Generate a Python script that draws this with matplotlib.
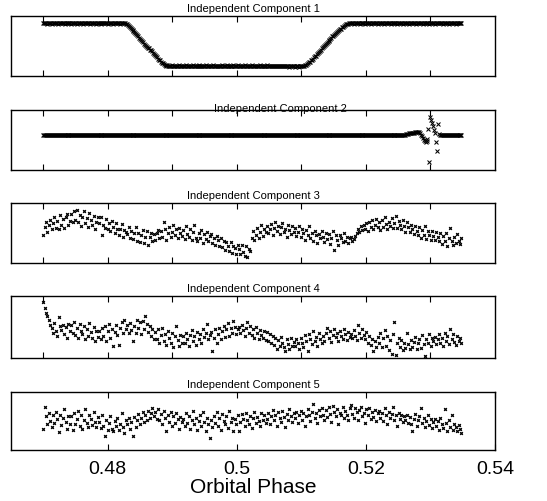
import numpy as np
import matplotlib
matplotlib.use("Agg")
import matplotlib.pyplot as plt

plt.rcParams['font.family'] = ['Liberation Sans', 'DejaVu Sans']

PHASE_START = 0.47
PHASE_END = 0.5348

titles = ["Independent Component 1", "Independent Component 2", "Independent Component 3",
          "Independent Component 4", "Independent Component 5"]

comp1 = [
    88, 89, 88, 88, 87, 88, 88, 89, 88, 87,
    88, 88, 88, 89, 88, 87, 88, 88, 88, 88,
    89, 88, 87, 88, 88, 88, 89, 88, 88, 87,
    88, 88, 89, 88, 88, 87, 88, 88, 88, 89,
    88, 87, 88, 88, 89, 88, 88, 88, 87, 88,
    88, 89, 88, 88, 87, 88, 89, 88, 88, 88,
    87, 88, 88, 89, 88, 88, 88, 87, 88, 89,
    88, 88, 87, 88, 88, 89, 88, 88, 88, 87,
    88, 88, 89,
    88, 88, 87, 86, 85, 84, 82, 80, 78, 77,
    75, 74, 72, 70, 68, 66, 64, 62, 60, 58,
    56, 54, 52, 50, 49, 47, 46, 44, 43, 41,
    39, 37, 35, 33, 31, 29, 27, 26, 24, 22,
    21, 20, 19, 18,
    17, 18, 17, 17, 16, 17, 18, 17, 17, 17,
    16, 17, 17, 18, 17, 17, 16, 17, 17, 17,
    18, 17, 17, 16, 17, 17, 17, 18, 17, 16,
    17, 17, 17, 17, 18, 17, 16, 17, 17, 17,
    17, 18, 17, 17, 16, 17, 17, 17, 18, 17,
    17, 16, 17, 17, 17, 16, 17, 18, 16, 17,
    17, 17, 18, 17, 16, 17, 17, 17, 17, 18,
    16, 17, 17, 17, 18, 17, 17, 16, 17, 17,
    17, 18, 17, 16, 17, 17, 17, 17, 18, 17,
    16, 17, 17, 17, 17, 16, 18, 17, 17, 17,
    17, 16, 17, 17, 18, 17, 16, 17, 17, 16,
    17, 17, 16, 17, 17, 16, 17, 16, 17, 16,
    16, 17, 16, 16, 17, 16, 15, 16, 16, 17,
    16, 16, 15, 16, 17, 16, 16, 15, 16, 16,
    17, 16, 16,
    18, 19, 20, 21, 23, 24, 26, 27, 29, 31,
    33, 34, 36, 38, 40, 42, 44, 46, 48, 50,
    52, 53, 55, 57, 59, 60, 62, 64, 66, 67,
    69, 70, 72, 73, 75, 76, 78, 79, 81, 82,
    84, 85, 86, 87, 87, 88, 88,
    88, 89, 88, 87, 88, 88, 89, 88, 88, 87,
    88, 89, 88, 88, 88, 87, 88, 89, 88, 88,
    88, 87, 89, 88, 88, 88, 88, 89, 87, 88,
    88, 88, 89, 88, 87, 88, 88, 88, 89, 88,
    88, 87, 88, 88, 89, 88, 88, 88, 87, 88,
    89, 88, 88, 88, 87, 88, 88, 89, 88, 88,
    87, 88, 88, 88, 89, 88, 88, 87, 88, 88,
    88, 89, 88, 88, 87, 88, 88, 88, 89, 88,
    88, 87, 88, 89, 88, 88, 88, 87, 88, 88,
    89, 88, 88, 88, 88, 87, 88, 89, 88, 88,
    88, 87, 88, 88, 89, 88, 88, 88, 87, 88,
    88, 89, 88, 88, 88,
]

comp2 = [
    58, 58, 59, 58, 58, 58, 59, 58, 58, 58, 58, 59, 58, 58, 58, 58, 59, 58, 58, 58,
    58, 59, 58, 58, 58, 58, 58, 59, 58, 58, 58, 58, 59, 58, 58, 58, 58, 58, 59, 58,
    58, 58, 59, 58, 58, 58, 58, 59, 58, 58, 58, 58, 58, 59, 58, 58, 58, 59, 58, 58,
    58, 59, 58, 58, 58, 58, 59, 58, 58, 58, 58, 58, 59, 58, 58, 58, 58, 59, 58, 58,
    58, 58, 59, 58, 58, 58, 58, 58, 59, 58, 58, 58, 59, 58, 58, 58, 58, 58, 59, 58,
    58, 59, 58, 58, 58, 58, 58, 59, 58, 58, 58, 58, 59, 58, 58, 58, 58, 58, 59, 58,
    58, 58, 59, 58, 58, 58, 59, 58, 58, 58, 58, 58, 59, 58, 58, 58, 58, 59, 58, 58,
    58, 59, 58, 58, 58, 58, 58, 59, 58, 58, 58, 59, 58, 58, 58, 58, 58, 59, 58, 58,
    58, 58, 59, 58, 58, 58, 58, 58, 59, 58, 58, 58, 58, 59, 58, 58, 58, 58, 59, 58,
    58, 59, 58, 58, 58, 58, 59, 58, 58, 58, 58, 58, 59, 58, 58, 58, 59, 58, 58, 58,
    58, 58, 59, 58, 58, 58, 58, 58, 59, 58, 58, 58, 58, 59, 58, 58, 58, 58, 59, 58,
    58, 59, 58, 58, 58, 58, 58, 59, 58, 58, 58, 58, 59, 58, 58, 58, 58, 58, 59, 58,
    58, 58, 59, 58, 58, 58, 58, 59, 58, 58, 58, 58, 58, 59, 58, 58, 59, 58, 58, 58,
    58, 59, 58, 58, 58, 58, 59, 58, 58, 58, 58, 58, 59, 58, 58, 58, 58, 59, 58, 58,
    58, 58, 59, 58, 58, 58, 58, 58, 59, 58, 58, 58, 59, 58, 58, 58, 58, 58, 59, 58,
    58, 59, 58, 58, 58, 58, 58, 59, 58, 58, 58, 58, 59, 58, 58, 58, 58, 58, 59, 58,
    58, 58, 59, 58, 58, 58, 59, 58, 58, 58, 58, 58, 59, 58, 58, 58, 58, 59, 58, 58,
    58, 59, 58, 58, 58, 58, 58, 59, 58, 58, 58, 59, 58, 58, 58, 58, 58, 59, 58, 58,
    58, 58, 59, 58, 58, 58, 58, 59, 58, 58, 58, 59,
    59, 59, 60, 60, 60, 61, 61, 61, 62, 62, 62, 63, 63, 63, 64, 64, 62, 59, 56, 53,
    50, 48, 47, 49,
    52, 68, 14, 88, 84, 79, 73, 66, 62, 46, 32, 77,
    60, 59, 58, 59, 58, 58, 59, 58, 58, 59, 58, 58, 59, 58, 58, 58, 59, 58, 58, 59,
    58, 58, 58, 59,
]

comp3 = [
    46, 60, 68, 52, 63, 72, 56, 66, 76, 59, 70, 57, 80, 64, 73, 58, 76, 82, 63, 70,
    82, 68, 86, 71, 88, 68, 80, 62, 76, 86, 67, 75, 60, 84, 71, 64, 78, 56, 69, 76,
    66, 76, 47, 64, 58, 73, 56, 66, 53, 70, 60, 50, 66, 57, 46, 57, 65, 44, 55, 52,
    49, 60, 42, 54, 40, 50, 60, 37, 50, 35, 46, 55, 33, 44, 53, 30, 43, 50, 36, 48,
    38, 50, 55, 42, 53, 44, 69, 56, 39, 50, 60, 44, 52, 63, 47, 56, 41, 58, 50, 45,
    55, 40, 61, 48, 43, 57, 38, 51, 63, 42, 36, 50, 42, 55, 34, 48, 40, 51, 36, 45,
    49, 34, 42, 30, 45, 38, 28, 42, 26, 37, 22, 35, 28, 20, 35, 17, 28, 25, 15, 30,
    24, 15, 30, 19, 12, 28, 10, 23, 20, 42, 53, 38, 47, 58, 42, 52, 63, 45, 57, 51,
    62, 50, 56, 65, 46, 58, 68, 53, 62, 48, 60, 66, 51, 57, 43, 63, 55, 48, 61, 52,
    58, 45, 52, 62, 43, 56, 50, 38, 55, 47, 61, 42, 50, 36, 54, 46, 33, 49, 42, 53,
    44, 35, 50, 40, 48, 32, 42, 54, 22, 47, 39, 30, 46, 41, 35, 50, 37, 44, 33, 42,
    43, 37, 40, 45, 50, 57, 52, 62, 55, 63, 57, 66, 53, 69, 60, 72, 57, 64, 74, 60,
    68, 55, 71, 60, 77, 65, 56, 69, 62, 75, 58, 66, 78, 59, 70, 64, 56, 72, 62, 52,
    68, 60, 51, 64, 56, 48, 62, 54, 46, 60, 42, 55, 47, 61, 40, 54, 46, 38, 53, 45,
    38, 52, 44, 36, 50, 31, 45, 37, 50, 29, 42, 58, 36, 30, 44, 34, 48, 37, 32, 41,
]

comp4 = [
    90, 80, 73, 67, 61, 54, 48, 40, 56, 44, 36, 66, 52, 45, 54, 38, 50, 33, 55, 44,
    53, 40, 58, 37, 49, 32, 55, 44, 38, 51, 30, 47, 36, 56, 42, 33, 50, 27, 43, 34,
    44, 30, 48, 36, 52, 28, 43, 55, 33, 47, 20, 42, 53, 37, 21, 49, 58, 40, 62, 46,
    53, 41, 57, 45, 27, 52, 40, 62, 48, 58, 38, 60, 47, 68, 55, 42, 51, 35, 46, 30,
    42, 31, 46, 24, 37, 49, 28, 38, 21, 44, 32, 24, 41, 18, 35, 51, 29, 20, 37, 25,
    35, 24, 41, 30, 20, 37, 45, 27, 35, 21, 42, 31, 38, 25, 47, 34, 40, 55, 30, 37,
    42, 12, 33, 46, 24, 38, 49, 31, 43, 52, 34, 46, 56, 36, 48, 41, 59, 50, 38, 46,
    50, 40, 54, 45, 35, 48, 58, 41, 51, 37, 46, 33, 50, 40, 30, 45, 37, 33, 44, 29,
    42, 28, 38, 24, 35, 21, 33, 14, 29, 19, 34, 25, 17, 12, 30, 23, 15, 32, 20, 26,
    19, 30, 24, 14, 33, 25, 18, 37, 28, 12, 39, 30, 22, 43, 28, 34, 20, 40, 31, 25,
    36, 27, 41, 48, 32, 43, 26, 37, 47, 34, 40, 28, 44, 36, 31, 46, 38, 29, 42, 34,
    39, 32, 45, 36, 29, 53, 40, 33, 46, 37, 30, 42, 24, 36, 21, 31, 12, 27, 17, 34,
    25, 40, 17, 33, 45, 20, 35, 13, 29, 7, 38, 58, 5, 24, 32, 18, 29, 13, 25, 16,
    40, 22, 15, 29, 17, 26, 34, 14, 24, 30, 16, 37, 22, 4, 30, 25, 39, 20, 32, 27,
    34, 22, 30, 39, 25, 32, 19, 40, 27, 35, 23, 46, 30, 38, 26, 21, 36, 28, 33, 25,
]

comp5 = [
    36, 75, 58, 44, 64, 50, 40, 60, 46, 66, 54, 31, 61, 43, 56, 70, 49, 37, 59, 45,
    58, 34, 64, 44, 53, 68, 41, 61, 36, 52, 70, 47, 39, 60, 54, 43, 65, 49, 40, 57,
    49, 38, 60, 42, 25, 51, 35, 46, 58, 37, 32, 50, 41, 55, 34, 45, 63, 40, 30, 52,
    44, 55, 36, 49, 24, 57, 40, 52, 62, 45, 56, 66, 48, 60, 52, 68, 56, 63, 72, 58,
    66, 53, 70, 51, 62, 44, 68, 55, 33, 61, 49, 65, 42, 58, 47, 64, 53, 36, 57, 48,
    54, 42, 64, 47, 58, 37, 52, 68, 45, 56, 35, 50, 60, 41, 66, 48, 33, 55, 44, 21,
    51, 40, 59, 46, 65, 42, 55, 35, 62, 50, 45, 58, 38, 68, 48, 56, 33, 53, 44, 61,
    32, 48, 62, 54, 41, 64, 51, 45, 59, 38, 55, 66, 46, 57, 50, 42, 63, 52, 60, 47,
    53, 64, 45, 59, 69, 51, 61, 42, 65, 55, 48, 67, 57, 40, 62, 52, 71, 58, 49, 63,
    55, 66, 47, 60, 68, 52, 64, 41, 59, 70, 61, 50, 66, 80, 56, 64, 46, 69, 59, 72,
    61, 52, 69, 57, 74, 62, 48, 76, 66, 58, 70, 44, 64, 60, 75, 55, 68, 61, 51, 72,
    78, 62, 55, 72, 65, 52, 69, 75, 59, 64, 47, 70, 61, 73, 54, 66, 57, 69, 50, 63,
    68, 56, 64, 50, 72, 60, 45, 66, 55, 62, 75, 52, 60, 42, 64, 54, 61, 48, 58, 51,
    60, 47, 57, 44, 33, 54, 62, 42, 51, 58, 73, 46, 56, 40, 50, 60, 43, 54, 38, 49,
    54, 42, 50, 34, 56, 44, 38, 70, 47, 32, 52, 40, 60, 35, 45, 39, 33, 43, 36, 30,
]

components = [comp1, comp2, comp3, comp4, comp5]

minor_ticks = [0.47, 0.48, 0.49, 0.50, 0.51, 0.52, 0.53]
bottom_ticks = [0.48, 0.50, 0.52, 0.54]
bottom_ticklabels = ["0.48", "0.5", "0.52", "0.54"]

W, H = 547, 501
fig = plt.figure(figsize=(W / 100, H / 100), dpi=100)

extents = [(16, 76), (110, 170), (203, 263), (296, 358), (392, 450)]
left_px, right_px = 11, 495
marker_sizes = [2.6, 2.6, 2.0, 2.0, 2.0]
marker_widths = [0.75, 0.75, 0.9, 0.9, 0.9]

for k, (vals, title, (t, b)) in enumerate(zip(components, titles, extents)):
    ax = fig.add_axes([left_px / W, (H - b) / H, (right_px - left_px) / W, (b - t) / H])
    y = np.asarray(vals, dtype=float)
    x = np.linspace(PHASE_START, PHASE_END, len(y))
    ax.plot(x, y, linestyle='none', marker='x', color='black',
            markersize=marker_sizes[k], markeredgewidth=marker_widths[k])
    ax.set_xlim(0.465, 0.54)
    ax.set_ylim(0, 100)
    ax.set_yticks([])
    for s in ax.spines.values():
        s.set_linewidth(1.0)
        s.set_color('black')
    if k == 1:
        ax.text(0.556, 0.975, title, transform=ax.transAxes, ha='center',
                va='baseline', fontsize=8)
    else:
        ax.set_title(title, fontsize=8, pad=3.0)
    ax.tick_params(axis='x', direction='in', length=4, width=0.8, top=True, bottom=True)
    if k < 4:
        ax.set_xticks(minor_ticks)
        ax.set_xticklabels([])
    else:
        ax.set_xticks(bottom_ticks)
        ax.set_xticklabels(bottom_ticklabels)
        ax.tick_params(axis='x', labelsize=14, pad=8)
        ax.set_xlabel("Orbital Phase", fontsize=15, labelpad=0)

fig.savefig("out.png", dpi=100)
